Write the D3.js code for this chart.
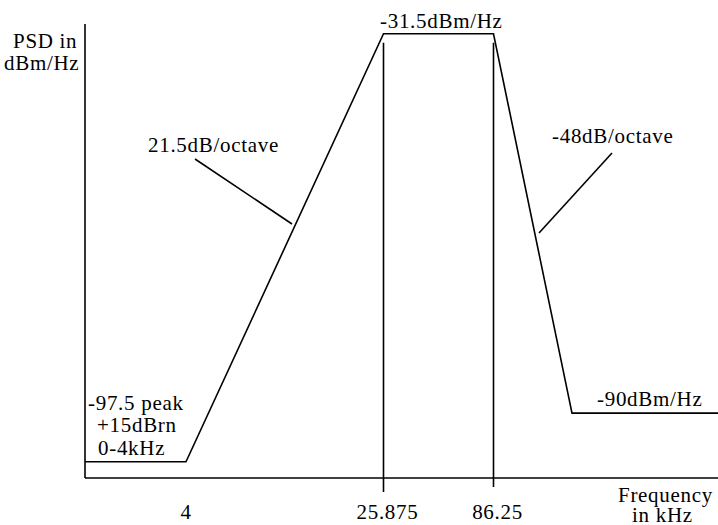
<!DOCTYPE html>
<html>
<head>
<meta charset="utf-8">
<script src="https://cdn.jsdelivr.net/npm/d3@7"></script>
<style>
  body { margin: 0; background: #fff; }
</style>
</head>
<body>
<div id="chart"></div>
<script>
// PSD mask breakpoints (frequency in kHz, level in dBm/Hz)
const freqs = [0, 4, 25.875, 86.25, 181, 1104];
const psd = [-97.5, -97.5, -31.5, -31.5, -90, -90];

// labelled frequencies on the x axis
const tickFreqs = [4, 25.875, 86.25];
const tickLabels = ["4", "25.875", "86.25"];

// vertical marker lines (go slightly below the axis)
const markerFreqs = [25.875, 86.25];

const width = 718, height = 525;
const serif = "Times New Roman, Liberation Serif, Tinos, DejaVu Serif, serif";

const svg = d3.select("#chart").append("svg")
    .attr("width", width)
    .attr("height", height);

// schematic (piecewise) frequency scale
const x = d3.scaleLinear()
    .domain(freqs)
    .range([85, 186, 383.5, 493.5, 572, 718]);

const y = d3.scaleLinear()
    .domain([-100, -30])
    .range([478, 24]);

const lineW = 1.6;

function label(px, py, str, anchor) {
    return svg.append("text")
        .attr("x", px)
        .attr("y", py)
        .attr("text-anchor", anchor || "start")
        .attr("font-family", serif)
        .attr("font-size", 21)
        .attr("letter-spacing", 0.7)
        .attr("fill", "#000")
        .text(str);
}

// axes
svg.append("line")
    .attr("x1", x(0)).attr("x2", x(0))
    .attr("y1", y(-30)).attr("y2", y(-100))
    .attr("stroke", "#000").attr("stroke-width", lineW);

svg.append("line")
    .attr("x1", x(0)).attr("x2", width)
    .attr("y1", y(-100)).attr("y2", y(-100))
    .attr("stroke", "#000").attr("stroke-width", lineW);

// mask curve
const line = d3.line()
    .x((d, i) => x(freqs[i]))
    .y(d => y(d));

svg.append("path")
    .datum(psd)
    .attr("d", line)
    .attr("fill", "none")
    .attr("stroke", "#000")
    .attr("stroke-width", lineW)
    .attr("stroke-linejoin", "miter");

// vertical marker lines
const markerBottom = [14, 9];
svg.selectAll(".marker")
    .data(markerFreqs)
    .enter()
    .append("line")
    .attr("class", "marker")
    .attr("x1", d => x(d)).attr("x2", d => x(d))
    .attr("y1", y(-32.9))
    .attr("y2", (d, i) => y(-100) + markerBottom[i])
    .attr("stroke", "#000").attr("stroke-width", lineW);

// tick labels
tickFreqs.forEach((f, i) => {
    label(x(f) + (i === 0 ? 0 : 4), 519, tickLabels[i], "middle");
});

// axis titles
label(13, 48, "PSD in");
label(4, 70, "dBm/Hz");
label(618, 502, "Frequency");
label(632, 522, "in kHz");

// level annotations
label(380, 28, "-31.5dBm/Hz");
label(597, 406, "-90dBm/Hz");

label(88, 410, "-97.5 peak");
label(97, 432, "+15dBrn");
label(98, 455, "0-4kHz");

// slope annotations with leader lines
label(148, 152, "21.5dB/octave");
svg.append("line")
    .attr("x1", 195).attr("y1", 159).attr("x2", 292).attr("y2", 224)
    .attr("stroke", "#000").attr("stroke-width", lineW);

label(552, 143, "-48dB/octave");
svg.append("line")
    .attr("x1", 612).attr("y1", 153).attr("x2", 539).attr("y2", 233)
    .attr("stroke", "#000").attr("stroke-width", lineW);
</script>
</body>
</html>
